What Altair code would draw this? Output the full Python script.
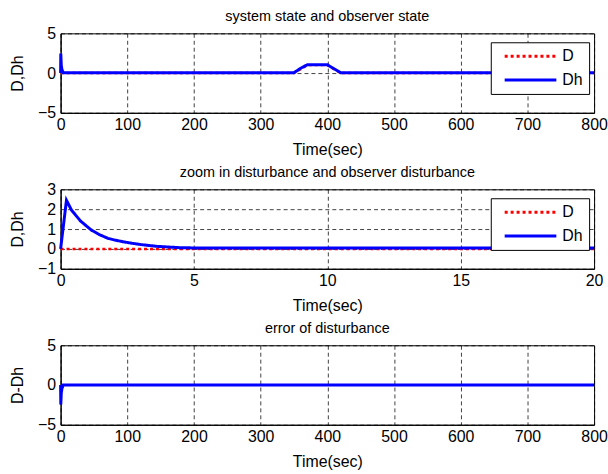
import altair as alt
import pandas as pd

FONT = "Liberation Sans"

# Panel 1: disturbance D and observer estimate Dh over the full run
t1 = [0, 0.3, 1, 2, 4, 350, 360, 370, 400, 420, 800]
d1 = [0, 0, 0, 0, 0, 0, 0.5, 1, 1, 0, 0]
dh1 = [0, 2.45, 1.0, 0.45, 0.05, 0.05, 0.6, 1.05, 1.05, 0.05, 0.05]

# Panel 2: zoom on the first 20 seconds
t2 = [0, 0.22, 0.41, 0.75, 1.15, 1.45, 1.78, 2.05, 2.38, 2.7, 3.0, 3.6, 4.5, 5, 10, 15, 20]
d2 = [0, 0, 0, 0, 0, 0, 0, 0, 0, 0, 0, 0, 0, 0, 0, 0, 0]
dh2 = [0, 2.45, 1.95, 1.4, 0.95, 0.72, 0.53, 0.44, 0.35, 0.28, 0.22, 0.13, 0.06, 0.05, 0.05, 0.05, 0.05]

# Panel 3: error D - Dh
t3 = [0, 0.3, 1, 2, 4, 350, 370, 400, 420, 800]
e3 = [0, -2.45, -1.0, -0.45, 0, 0, 0, 0, 0, 0]

x_ticks1 = [0, 100, 200, 300, 400, 500, 600, 700, 800]
x_ticks2 = [0, 5, 10, 15, 20]
y_ticks1 = [-5, 0, 5]
y_ticks2 = [-1, 0, 1, 2, 3]

series = ["D", "Dh"]
colors = ["#ff0000", "#0000ff"]
dashes = [[3, 3], [1, 0]]
widths = [2.5, 3]

W, H = 537, 80


def long_df(t, a, b):
    rows = []
    for ti, v in zip(t, a):
        rows.append({"t": ti, "v": v, "s": "D"})
    for ti, v in zip(t, b):
        rows.append({"t": ti, "v": v, "s": "Dh"})
    return pd.DataFrame(rows)


def axis_x(vals):
    return alt.Axis(values=vals, title="Time(sec)", grid=True, gridDash=[4, 3],
                    gridColor="#000000", gridOpacity=0.75, ticks=False,
                    labelFlush=False, labelFontSize=16, titleFontSize=16,
                    titleFontWeight="normal", labelPadding=4, titlePadding=9,
                    domainColor="#000000", labelColor="#000000", titleColor="#000000",
                    format="d")


def axis_y(vals, title):
    return alt.Axis(values=vals, title=title, grid=True, gridDash=[4, 3],
                    gridColor="#000000", gridOpacity=0.75, ticks=False,
                    labelFlush=False, labelFontSize=16, titleFontSize=16,
                    titleFontWeight="normal", labelPadding=5, titlePadding=12,
                    domainColor="#000000", labelColor="#000000", titleColor="#000000",
                    format="d")


def legend():
    return alt.Legend(title=None, orient="none", legendX=433, legendY=9,
                      strokeColor="#000000", fillColor="#ffffff", padding=6,
                      symbolType="M-4,0H4", symbolSize=169, labelFontSize=16,
                      symbolStrokeWidth=3, labelColor="#000000", rowPadding=8,
                      symbolOffset=26, labelOffset=24, cornerRadius=0)


def make_title(text):
    return alt.Title(text, fontSize=14.5, fontWeight="normal", font=FONT, offset=1)


def two_series(df, title, xdom, xt, ydom, yt):
    return alt.Chart(df, title=make_title(title)).mark_line().encode(
        x=alt.X("t:Q", scale=alt.Scale(domain=xdom, nice=False), axis=axis_x(xt)),
        y=alt.Y("v:Q", scale=alt.Scale(domain=ydom, nice=False), axis=axis_y(yt, "D,Dh")),
        color=alt.Color("s:N", scale=alt.Scale(domain=series, range=colors), legend=legend()),
        strokeDash=alt.StrokeDash("s:N", scale=alt.Scale(domain=series, range=dashes), legend=legend()),
        strokeWidth=alt.StrokeWidth("s:N", scale=alt.Scale(domain=series, range=widths), legend=None),
        order=alt.Order("s:N"),
        detail="s:N",
    ).properties(width=W, height=H)


p1 = two_series(long_df(t1, d1, dh1), "system state and observer state", [0, 800], x_ticks1, [-5, 5], y_ticks1)
p2 = two_series(long_df(t2, d2, dh2), "zoom in disturbance and observer disturbance", [0, 20], x_ticks2, [-1, 3], y_ticks2)

df3 = pd.DataFrame({"t": t3, "v": e3})
p3 = alt.Chart(df3, title=make_title("error of disturbance")).mark_line(color="#0000ff", strokeWidth=3).encode(
    x=alt.X("t:Q", scale=alt.Scale(domain=[0, 800], nice=False), axis=axis_x(x_ticks1)),
    y=alt.Y("v:Q", scale=alt.Scale(domain=[-5, 5], nice=False), axis=axis_y(y_ticks1, "D-Dh")),
).properties(width=W, height=H)

chart = alt.vconcat(p1, p2, p3, spacing=6).configure(
    font=FONT, background="#ffffff", padding={"left": 9, "top": 7, "right": 0, "bottom": 0}
).configure_view(stroke="#000000", strokeWidth=1).configure_legend(
    labelFont=FONT
).resolve_scale(color="independent", strokeDash="independent")

chart.save("out.html", embed_options={"renderer": "svg", "actions": False})
